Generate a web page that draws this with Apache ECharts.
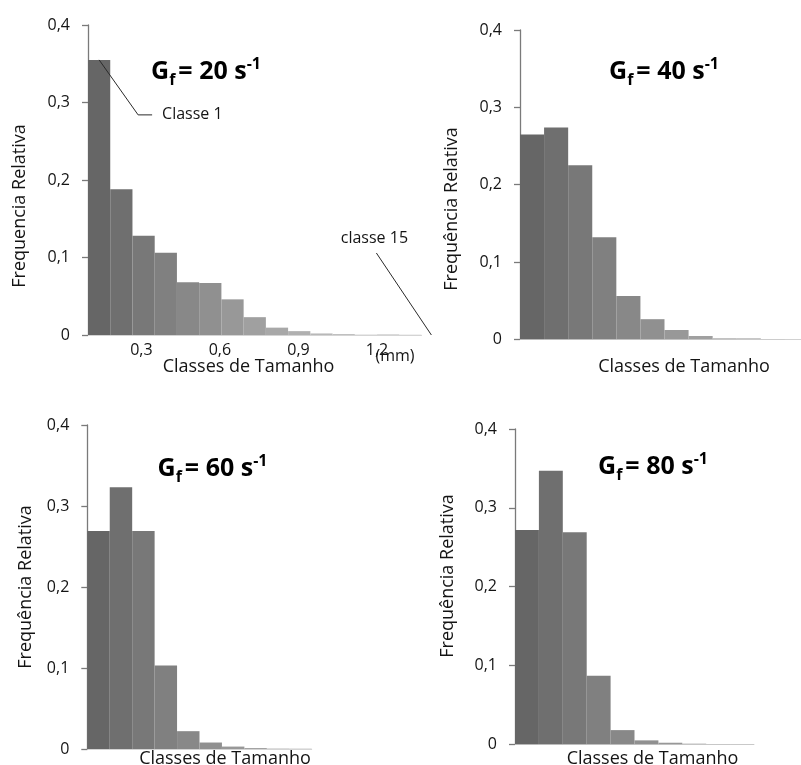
<!DOCTYPE html>
<html><head><meta charset="utf-8">
<script src="https://cdn.jsdelivr.net/npm/echarts@6/dist/echarts.min.js"></script>
<style>html,body{margin:0;padding:0;background:#fff}#c{width:801px;height:765px}</style>
</head><body><div id="c"></div>
<script>
// ---- data ----
const classes15 = ['1','2','3','4','5','6','7','8','9','10','11','12','13','14','15'];
const classes12 = classes15.slice(0, 12);
const classes10 = classes15.slice(0, 10);
const freqGf20 = [0.355, 0.188, 0.128, 0.106, 0.068, 0.067, 0.046, 0.023, 0.0095, 0.005, 0.002, 0.0013, 0.0005, 0.001, 0.0005];
const freqGf40 = [0.265, 0.274, 0.225, 0.132, 0.056, 0.026, 0.012, 0.0043, 0.0013, 0.0013, 0.0004, 0.0002];
const freqGf60 = [0.269, 0.323, 0.269, 0.103, 0.022, 0.008, 0.003, 0.0012, 0.0005, 0.0004];
const freqGf80 = [0.272, 0.347, 0.269, 0.087, 0.018, 0.005, 0.002, 0.0008, 0.0004, 0.0004];
const gfValues = ['20', '40', '60', '80'];
const sizeTicksMm = [0.3, 0.6, 0.9, 1.2];
const yTitles = ['Frequencia Relativa', 'Frequência Relativa', 'Frequência Relativa', 'Frequência Relativa'];
const xTitle = 'Classes de Tamanho';

// ---- styles ----
const shades = ['#666666','#6f6f6f','#787878','#808080','#888888','#909090','#989898','#a0a0a0','#a8a8a8','#b0b0b0','#b8b8b8','#c0c0c0','#c8c8c8','#d0d0d0','#d8d8d8'];
const FONT = '"Open Sans", "Noto Sans", sans-serif';
const TXT = '#141414';

const panels = [
  { cats: classes15, data: freqGf20, grid: { left: 88, top: 25, width: 333.5, height: 310 },
    title: [206, 72], yName: [20, 206], xName: [248.5, 367] },
  { cats: classes12, data: freqGf40, grid: { left: 520, top: 30, width: 289, height: 309.3 },
    title: [664, 72], yName: [452, 209], xName: [684, 367] },
  { cats: classes10, data: freqGf60, grid: { left: 87.3, top: 425, width: 224.4, height: 324 },
    title: [212.5, 469], yName: [26, 587], xName: [225, 759] },
  { cats: classes10, data: freqGf80, grid: { left: 515, top: 429, width: 239, height: 315.3 },
    title: [653, 467], yName: [448, 576], xName: [652.5, 759] }
];

const fmt = v => (Math.round(v * 10) / 10 === 0 ? '0' : (Math.round(v * 10) / 10).toFixed(1).replace('.', ','));

const option = {
  animation: false,
  backgroundColor: '#fff',
  grid: panels.map(p => Object.assign({ outerBoundsMode: 'none', containLabel: false }, p.grid)),
  xAxis: panels.map((p, i) => ({
    type: 'category', gridIndex: i, data: p.cats, boundaryGap: true,
    axisLine: { show: true, lineStyle: { color: '#d4d4d4', width: 1 } },
    axisTick: { show: false }, axisLabel: { show: false }, splitLine: { show: false }
  })).concat([{
    type: 'value', gridIndex: 0, position: 'bottom', min: 0.096, max: 1.37,
    axisLine: { show: false }, axisTick: { show: false }, splitLine: { show: false },
    axisLabel: { customValues: sizeTicksMm, margin: 7, fontSize: 16, fontFamily: FONT, color: TXT,
      formatter: v => String(v).replace('.', ',') }
  }]),
  yAxis: panels.map((p, i) => ({
    type: 'value', gridIndex: i, min: 0, max: 0.4, interval: 0.1,
    axisLine: { show: true, lineStyle: { color: '#7a7a7a', width: 1.3 } },
    axisTick: { show: true, length: 6, lineStyle: { color: '#7a7a7a', width: 1.3 } },
    splitLine: { show: false },
    axisLabel: { margin: 18, fontSize: 16, fontFamily: FONT, color: TXT, formatter: fmt }
  })),
  series: panels.map((p, i) => ({
    type: 'bar', xAxisIndex: i, yAxisIndex: i, data: p.data,
    barWidth: '100%', barCategoryGap: '0%',
    itemStyle: { color: params => shades[params.dataIndex] }
  }))
};

const chart = echarts.init(document.getElementById('c'), null, { renderer: 'canvas' });
chart.setOption(option);

// ---- annotations ----
const g = [];
panels.forEach((p, i) => {
  g.push({
    type: 'text', x: p.title[0], y: p.title[1], z: 10,
    style: {
      text: '{m|G}{s|f}{m|= ' + gfValues[i] + ' s}{p|-1}',
      textAlign: 'center', textVerticalAlign: 'middle', fill: '#000',
      rich: {
        m: { fontSize: 25, fontWeight: 'bold', fontFamily: FONT, fill: '#000', lineHeight: 32, verticalAlign: 'middle' },
        s: { fontSize: 16, fontWeight: 'bold', fontFamily: FONT, fill: '#000', lineHeight: 14, verticalAlign: 'bottom', padding: [0, 3, 0, 0] },
        p: { fontSize: 16, fontWeight: 'bold', fontFamily: FONT, fill: '#000', lineHeight: 14, verticalAlign: 'top' }
      }
    }
  });
  g.push({
    type: 'text', x: p.yName[0], y: p.yName[1], rotation: Math.PI / 2, z: 10,
    style: { text: yTitles[i], textAlign: 'center', textVerticalAlign: 'middle', fontSize: 18, fontFamily: FONT, fill: TXT }
  });
  g.push({
    type: 'text', x: p.xName[0], y: p.xName[1], z: 10,
    style: { text: xTitle, textAlign: 'center', textVerticalAlign: 'middle', fontSize: 18, fontFamily: FONT, fill: TXT }
  });
});

// leader to class 1 (panel 1)
const c1 = chart.convertToPixel({ xAxisIndex: 0, yAxisIndex: 0 }, [classes15[0], freqGf20[0]]);
g.push({ type: 'polyline', z: 11, shape: { points: [[c1[0], c1[1]], [c1[0] + 39, c1[1] + 55], [c1[0] + 53, c1[1] + 55]] },
  style: { stroke: '#2a2a2a', lineWidth: 1, fill: null } });
g.push({ type: 'text', x: c1[0] + 63, y: c1[1] + 55, z: 11,
  style: { text: 'Classe 1', textAlign: 'left', textVerticalAlign: 'middle', fontSize: 16, fontFamily: FONT, fill: TXT } });

// leader to class 15 (panel 1)
const c15 = chart.convertToPixel({ xAxisIndex: 0, yAxisIndex: 0 }, [classes15[14], 0]);
g.push({ type: 'polyline', z: 11, shape: { points: [[c15[0] - 34, c15[1] - 82], [c15[0] + 21, c15[1]]] },
  style: { stroke: '#2a2a2a', lineWidth: 1, fill: null } });
g.push({ type: 'text', x: c15[0] - 36, y: c15[1] - 97, z: 11,
  style: { text: 'classe 15', textAlign: 'center', textVerticalAlign: 'middle', fontSize: 16, fontFamily: FONT, fill: TXT } });
g.push({ type: 'text', x: 395, y: 356, z: 11,
  style: { text: '(mm)', textAlign: 'center', textVerticalAlign: 'middle', fontSize: 16, fontFamily: FONT, fill: TXT } });

chart.setOption({ graphic: g });
</script>
</body></html>
